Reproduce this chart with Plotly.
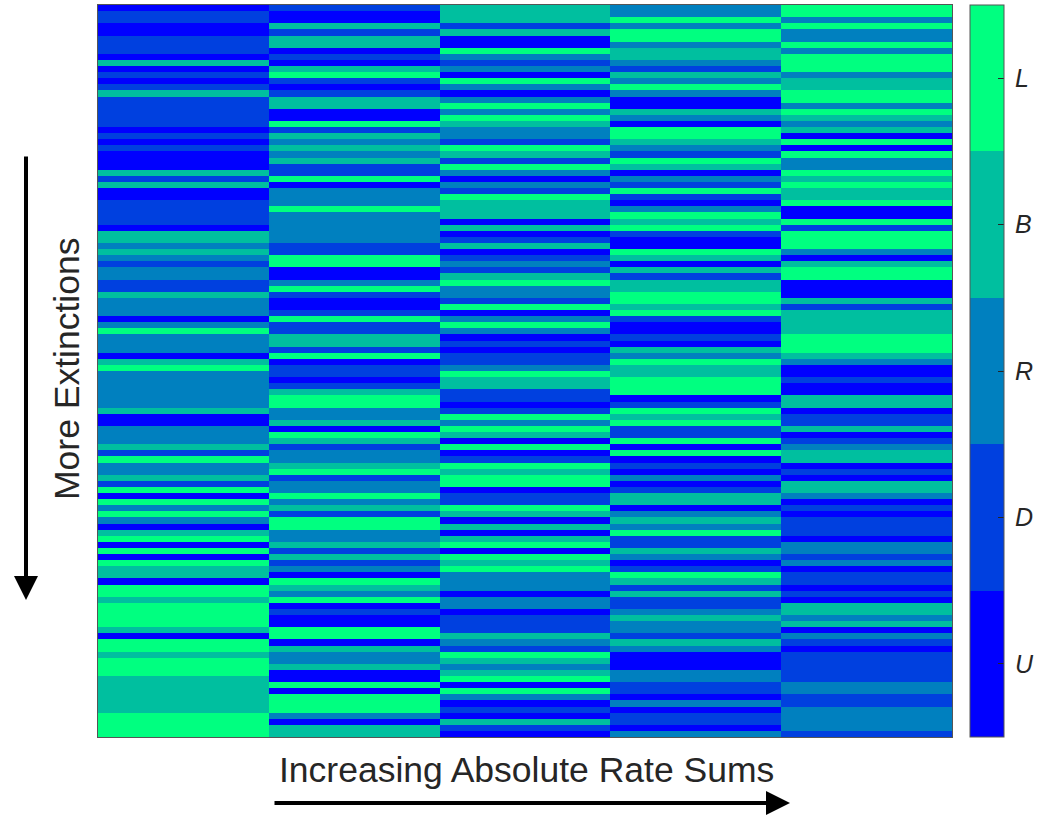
import plotly.graph_objects as go

# Category labels (colorbar order bottom -> top)
categories = ["U", "D", "R", "B", "L"]
colors = ["#0000FF", "#0040DF", "#0080BF", "#00BF9F", "#00FF80"]

# 120 rows (top -> bottom), one list per column (left -> right)
col1 = list("UDDUUDDDUBUDUDB" "DDDDDUDUDUUUBDB" "UUDDDDUBBRBRDRR" "DDBRRRURLRRRUBL"
            "RRRRRRBUURRRBDL" "RRBDLULRLRUBLUL" "ULBBULLBLLLLBUL" "LBLLLBBBBBBLLLL")
col2 = list("DUUBDBBUDUBLDUD" "BBUULDBRBRBDDLU" "RRRLRRRRRDDLLUU" "RLDUUDLDDBBDLUD"
            "DUDBLLRRBULBDRR" "BLDRRLRBDLLRRBD" "BDRULBRLUDUULLU" "BRRBUULULLLRUBB")
col3 = list("BBBDBUULRDRULRU" "RLRLBRRDLBDLRUR" "DLBBBUBUDBUDRDB" "LRRDLURLRUDUDDR"
            "LBBDDUDLRLBULUD" "LBLLUDDLBUBUBLU" "LBLRRRURRUDDDBR" "DLBRBLULRUDUBDU")
col4 = list("RRLRLLRBBRDBRLR" "UUBRULLBRDLBURD" "LDURLBLDUULBUBD" "BBLLBLDUUDUBRLB"
            "BLLLUDLBLDDLULU" "DURUDBBURBRLDDB" "RUDLBDBDDRBRRDB" "RUUURRDDURUDDUR")
col5 = list("LLRLRRLRLLLRBBL" "LRLBRBULULRRLBL" "BBLUULDLLLRUBLL" "UUUBDBBBBLLLBRU"
            "UDUUBBUDDBUDRBB" "UDUBBRUDUDDDURR" "DRUDDUDUBBRBURD" "UDDDDDRRDDRRRRD")

columns = [col1, col2, col3, col4, col5]
n_rows = len(col1)
idx = {c: i for i, c in enumerate(categories)}
z = [[idx[col[r]] for col in columns] for r in range(n_rows)]

# discrete colorscale
cs = []
n = len(colors)
for i, c in enumerate(colors):
    cs.append([i / n, c])
    cs.append([(i + 1) / n, c])

txt = "#262626"
font_family = "Liberation Sans, Arial, Helvetica, sans-serif"

fig = go.Figure(go.Heatmap(
    z=z,
    x=list(range(len(columns))),
    y=list(range(n_rows)),
    zmin=-0.5, zmax=n - 0.5,
    colorscale=cs,
    showscale=True,
    colorbar=dict(
        tickvals=list(range(n)),
        ticktext=["\u2009<i>%s</i>" % c for c in categories],
        ticks="inside", ticklen=6, tickwidth=1, tickcolor="#262626",
        tickfont=dict(size=25, color=txt, family=font_family),
        thickness=34, thicknessmode="pixels",
        len=1, lenmode="fraction", y=0.5, yanchor="middle",
        x=(970 - 98) / 854, xanchor="left", xpad=0, ypad=0,
        outlinecolor="#555555", outlinewidth=1,
    ),
    hoverinfo="skip",
))

fig.update_xaxes(range=[-0.5, 4.5], showticklabels=False, ticks="", showgrid=False,
                 zeroline=False, showline=True, mirror=True, linecolor="#555555", linewidth=1)
fig.update_yaxes(range=[n_rows - 0.5, -0.5], showticklabels=False, ticks="", showgrid=False,
                 zeroline=False, showline=True, mirror=True, linecolor="#555555", linewidth=1)

annotations = [
    # vertical arrow
    dict(xref="paper", yref="paper", x=(26 - 98) / 854, y=(737 - 600) / 732,
         ax=0, ay=-445, axref="pixel", ayref="pixel", text="", showarrow=True,
         arrowhead=2, arrowsize=1.2, arrowwidth=4, arrowcolor="black", standoff=0),
    # horizontal arrow
    dict(xref="paper", yref="paper", x=(790 - 98) / 854, y=(737 - 803) / 732,
         ax=-517, ay=0, axref="pixel", ayref="pixel", text="", showarrow=True,
         arrowhead=2, arrowsize=1.2, arrowwidth=4, arrowcolor="black", standoff=0),
    dict(xref="paper", yref="paper", x=(67 - 98) / 854, y=(737 - 369) / 732,
         text="More Extinctions", textangle=-90, showarrow=False,
         xanchor="center", yanchor="middle",
         font=dict(size=35.5, color=txt, family=font_family)),
    dict(xref="paper", yref="paper", x=(526 - 98) / 854, y=(737 - 770) / 732,
         text="Increasing Absolute Rate Sums", showarrow=False,
         xanchor="center", yanchor="middle",
         font=dict(size=35.5, color=txt, family=font_family)),
]

fig.update_layout(
    width=1038, height=818,
    margin=dict(l=98, r=86, t=5, b=81, autoexpand=False),
    paper_bgcolor="white", plot_bgcolor="white",
    annotations=annotations,
    font=dict(family=font_family, color=txt),
)

fig.write_html("out.html", config={"displayModeBar": False},
               post_script="document.body.style.margin='0';")
